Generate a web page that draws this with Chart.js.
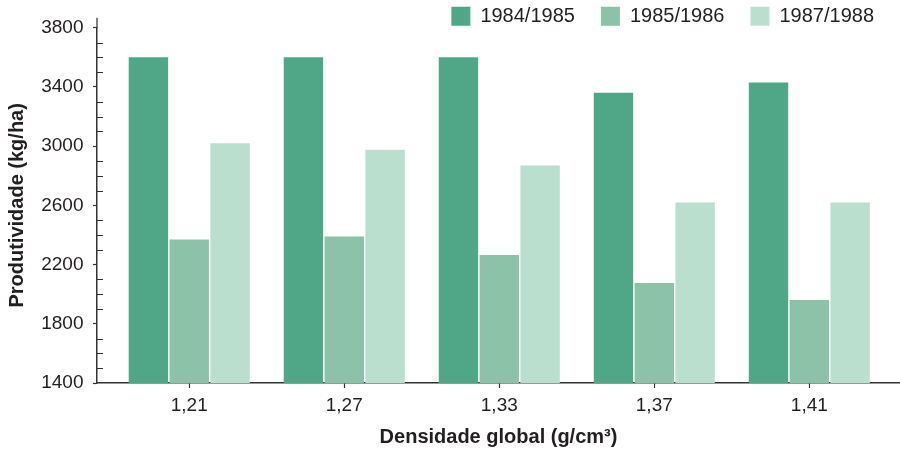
<!DOCTYPE html>
<html>
<head>
<meta charset="utf-8">
<script src="https://cdn.jsdelivr.net/npm/chart.js@4/dist/chart.umd.min.js"></script>
<style>
  html, body { margin: 0; padding: 0; background: #fff; }
  #wrap { width: 900px; height: 452px; position: relative; }
</style>
</head>
<body>
<div id="wrap"><canvas id="c" width="900" height="452"></canvas></div>
<script>
const categories = ['1,21', '1,27', '1,33', '1,37', '1,41'];
const seriesNames = ['1984/1985', '1985/1986', '1987/1988'];
const s1984 = [3600, 3600, 3600, 3360, 3430];
const s1985 = [2370, 2390, 2265, 2075, 1960];
const s1987 = [3020, 2975, 2870, 2620, 2620];
const yTicks = [1400, 1800, 2200, 2600, 3000, 3400, 3800];
const colors = ['#4fa788', '#8cc2a8', '#badfcf'];

const TEXT = '#231f20';
const AXIS = '#333333';
const FONT = "'Liberation Sans', Arial, sans-serif";

function pts(arr) { return arr.map((v, i) => ({ x: i, y: v })); }

const minorTicks = {
  id: 'minorTicks',
  afterDraw(chart) {
    const { ctx, chartArea, scales } = chart;
    const y = scales.y;
    ctx.save();
    ctx.strokeStyle = AXIS;
    ctx.lineWidth = 1.2;
    ctx.beginPath();
    for (let v = yTicks[0]; v <= yTicks[yTicks.length - 1]; v += 100) {
      if (yTicks.includes(v)) continue;
      const py = Math.round(y.getPixelForValue(v)) + 0.5;
      ctx.moveTo(chartArea.left, py);
      ctx.lineTo(chartArea.left + 6, py);
    }
    ctx.moveTo(chartArea.left, chartArea.top);
    ctx.lineTo(chartArea.left, chartArea.top - 10);
    ctx.stroke();
    ctx.restore();
  }
};

new Chart(document.getElementById('c'), {
  type: 'bar',
  data: {
    datasets: [
      { label: seriesNames[0], data: pts(s1984), backgroundColor: colors[0] },
      { label: seriesNames[1], data: pts(s1985), backgroundColor: colors[1] },
      { label: seriesNames[2], data: pts(s1987), backgroundColor: colors[2] }
    ]
  },
  options: {
    responsive: false,
    animation: false,
    devicePixelRatio: 1,
    categoryPercentage: 0.79,
    barPercentage: 0.965,
    layout: { padding: { top: -19.8, left: 0, right: 0, bottom: 0 } },
    plugins: {
      legend: {
        position: 'top',
        align: 'end',
        maxHeight: 47.5,
        labels: {
          boxWidth: 19,
          boxHeight: 19,
          padding: 26,
          color: TEXT,
          font: { family: FONT, size: 20 }
        }
      },
      tooltip: { enabled: false }
    },
    scales: {
      x: {
        type: 'linear',
        offset: false,
        min: -0.595,
        max: 4.585,
        afterFit(s) { s.height = 69; },
        afterBuildTicks(s) { s.ticks = categories.map((c, i) => ({ value: i })); },
        ticks: {
          stepSize: 1,
          includeBounds: false,
          padding: 6.5,
          color: TEXT,
          font: { family: FONT, size: 19 },
          callback: (v) => categories[v] ?? ''
        },
        grid: { offset: false, drawOnChartArea: false, drawTicks: true, tickLength: 5, tickColor: AXIS, tickWidth: 1.2 },
        border: { display: true, color: AXIS, width: 1.5 },
        title: {
          display: true,
          text: 'Densidade global (g/cm³)',
          color: TEXT,
          font: { family: FONT, size: 20, weight: 'bold' },
          padding: { top: 0, bottom: 3 }
        }
      },
      y: {
        type: 'linear',
        min: 1400,
        max: 3800,
        afterFit(s) { s.width = 97; },
        afterBuildTicks(s) { s.ticks = yTicks.map(v => ({ value: v })); },
        ticks: {
          stepSize: 400,
          padding: 9.5,
          color: TEXT,
          font: { family: FONT, size: 19 },
          callback: (v) => String(v)
        },
        grid: { drawOnChartArea: false, drawTicks: true, tickLength: 4, tickColor: AXIS, tickWidth: 1.2 },
        border: { display: true, color: AXIS, width: 1.5 },
        title: {
          display: true,
          text: 'Produtividade (kg/ha)',
          color: TEXT,
          font: { family: FONT, size: 20, weight: 'bold' },
          padding: { top: 5.5, bottom: 0 }
        }
      }
    }
  },
  plugins: [minorTicks]
});
</script>
</body>
</html>
